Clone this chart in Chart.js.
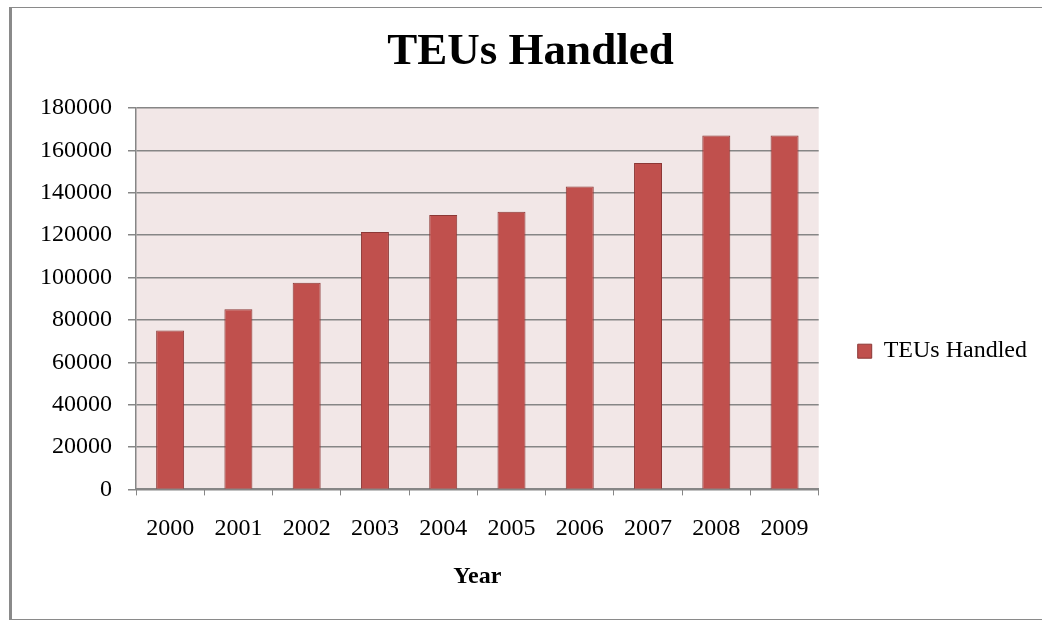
<!DOCTYPE html>
<html>
<head>
<meta charset="utf-8">
<script src="https://cdn.jsdelivr.net/npm/chart.js@4/dist/chart.umd.min.js"></script>
<style>
  html, body { margin: 0; padding: 0; background: #fff; }
  #wrap { position: relative; width: 1042px; height: 620px; }
  #frame {
    position: absolute; left: 9px; top: 7px; width: 1040px; height: 611px;
    border-left: 3px solid #8a8a8a; border-top: 1px solid #8a8a8a; border-bottom: 1px solid #8a8a8a;
    pointer-events: none;
  }
</style>
</head>
<body>
<div id="wrap">
  <canvas id="chart" width="1042" height="620"></canvas>
  <div id="frame"></div>
</div>
<script>
const years = ['2000', '2001', '2002', '2003', '2004', '2005', '2006', '2007', '2008', '2009'];
const teusHandled = [75000, 85000, 97500, 121500, 129500, 131000, 143000, 154000, 167000, 167000];
const yTicks = [0, 20000, 40000, 60000, 80000, 100000, 120000, 140000, 160000, 180000];

const serif = '"Liberation Serif", "Times New Roman", serif';
const gridGray = '#868686';

// shade the plot area like the spreadsheet chart
const plotBackground = {
  id: 'plotBackground',
  beforeDraw(chart) {
    const { ctx, chartArea } = chart;
    ctx.save();
    ctx.fillStyle = '#F2E7E7';
    ctx.fillRect(chartArea.left, chartArea.top, chartArea.right - chartArea.left, chartArea.bottom - chartArea.top);
    ctx.restore();
  }
};

new Chart(document.getElementById('chart'), {
  type: 'bar',
  data: {
    labels: years,
    datasets: [{
      label: 'TEUs Handled',
      data: teusHandled,
      backgroundColor: '#C0504D',
      borderColor: '#8C3836',
      borderWidth: 1,
      barPercentage: 0.41,
      categoryPercentage: 1
    }]
  },
  options: {
    responsive: false,
    animation: false,
    layout: { padding: { left: 24, right: 5, top: 0, bottom: 4 } },
    plugins: {
      title: {
        display: true,
        text: 'TEUs Handled',
        color: '#000',
        font: { family: serif, size: 45, weight: 'bold' },
        padding: { top: 25, bottom: 29 }
      },
      legend: {
        position: 'right',
        title: { display: true, text: '', padding: { top: 0, bottom: 72 } },
        labels: {
          color: '#000',
          font: { family: serif, size: 24 },
          boxWidth: 14,
          boxHeight: 14,
          padding: 39
        }
      },
      tooltip: { enabled: false }
    },
    scales: {
      x: {
        grid: {
          drawOnChartArea: false,
          drawTicks: true,
          tickLength: 6,
          color: gridGray
        },
        border: { color: gridGray, width: 2 },
        ticks: {
          color: '#000',
          font: { family: serif, size: 24 },
          padding: 19,
          maxRotation: 0
        },
        title: {
          display: true,
          text: 'Year',
          color: '#000',
          font: { family: serif, size: 24, weight: 'bold' },
          padding: { top: 0, bottom: 25 }
        }
      },
      y: {
        min: 0,
        max: 180000,
        afterBuildTicks(scale) {
          scale.ticks = yTicks.map(v => ({ value: v }));
        },
        grid: {
          color: gridGray,
          lineWidth: 1.5,
          tickLength: 8
        },
        border: { color: gridGray, width: 1.5 },
        ticks: {
          color: '#000',
          font: { family: serif, size: 24 },
          padding: 16,
          callback: v => String(v)
        }
      }
    }
  },
  plugins: [plotBackground]
});
</script>
</body>
</html>
